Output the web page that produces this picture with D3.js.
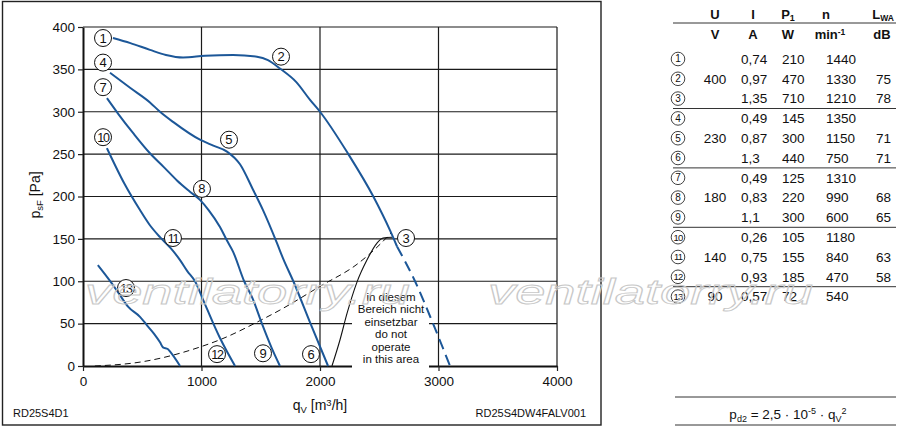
<!DOCTYPE html>
<html><head><meta charset="utf-8">
<script src="https://cdn.jsdelivr.net/npm/d3@7"></script>
<style>
html,body{margin:0;padding:0;background:#fff;}
svg{display:block;}
</style></head>
<body>
<svg id="chart" width="900" height="429"></svg>
<script>
// ---------- DATA ----------
const xTicks = [0, 1000, 2000, 3000, 4000];
const yTicks = [0, 50, 100, 150, 200, 250, 300, 350, 400];

// characteristic curves (q [m3/h], p [Pa])
const curve123 = [[253,387],[400,381],[565,373],[700,367],[844,364],[1030,366],[1266,367],[1468,365],[1561,361],[1662,351],[1800,335],[1916,314],[2000,300],[2239,250],[2450,200],[2591,160],[2650,141]];
const curve3Dashed = [[2650,141],[2802,100],[2954,50],[3097,0]];
const curve456 = [[228,346],[400,328],[565,311],[650,300],[760,288],[987,267],[1100,260],[1215,253],[1325,238],[1435,208],[1519,184],[1637,145],[1688,127],[1775,100],[1920,50],[2068,0]];
const curve789 = [[202,316],[300,297],[422,275],[565,251],[680,235],[793,219],[900,206],[987,196],[1060,184],[1156,164],[1215,148],[1266,135],[1360,100],[1430,80],[1510,50],[1590,22],[1662,0]];
const curve101112 = [[202,257],[350,215],[481,184],[560,167],[650,152],[740,139],[819,125],[880,112],[945,100],[1020,76],[1100,50],[1156,33],[1283,0]];
const curve13 = [[125,119],[240,98],[305,85],[380,70],[481,58],[540,48],[600,38],[650,28],[675,22],[715,20],[740,16],[819,0]];
const boundaryCurve = [[2101,0],[2169,31],[2228,62],[2312,99],[2396,125],[2481,145],[2532,151],[2608,152]];
const systemCurve = [[100,0],[500,5],[1000,23],[1156,31],[1500,54],[1662,66],[2000,94],[2312,120],[2480,140],[2600,157]];

// curve number labels (position in data coords)
const labelIds = ["1","4","7","10","2","5","8","11","13","12","9","6","3"];
const labelQ   = [169,169,169,169,1671,1232,1004,759,363,1131,1519,1924,2726];
const labelP   = [387,358,329,270,365,267,209,151,92,14,15,14,151];

// table
const rowIds  = ["1","2","3","4","5","6","7","8","9","10","11","12","13"];
const rowU    = ["","400","","","230","","","180","","","140","","90"];
const rowI    = ["0,74","0,97","1,35","0,49","0,87","1,3","0,49","0,83","1,1","0,26","0,75","0,93","0,57"];
const rowP    = ["210","470","710","145","300","440","125","220","300","105","155","185","72"];
const rowN    = ["1440","1330","1210","1350","1150","750","1310","990","600","1180","840","470","540"];
const rowL    = ["","75","78","","71","71","","68","65","","63","58",""];
const groupBreaks = [3, 6, 9, 12];

const noteLines = ["in diesem","Bereich nicht","einsetzbar","do not","operate","in this area"];

// ---------- DRAW ----------
const FONT = "'Liberation Sans', Arial, Helvetica, sans-serif";
const svg = d3.select("#chart").style("font-family", FONT);
const x = d3.scaleLinear().domain([0, 4000]).range([83, 557]);
const y = d3.scaleLinear().domain([0, 400]).range([366, 27]);
const BLUE = "#1c5798";

// frame
svg.append("rect").attr("x",2.5).attr("y",1.5).attr("width",598.5).attr("height",423.5)
  .attr("fill","none").attr("stroke","#222").attr("stroke-width",1.4);

// grid
const grid = svg.append("g").attr("stroke","#1a1a1a").attr("stroke-width",1.2);
grid.selectAll("line.h").data(yTicks.filter(d=>d>0)).join("line")
  .attr("x1", x(0)).attr("x2", x(4000)).attr("y1", d=>y(d)).attr("y2", d=>y(d));
grid.selectAll("line.v").data(xTicks.filter(d=>d>0)).join("line")
  .attr("x1", d=>x(d)).attr("x2", d=>x(d)).attr("y1", y(400)).attr("y2", y(0));

// axes
const yAxis = svg.append("g").attr("transform",`translate(${x(0)},0)`)
  .call(d3.axisLeft(y).tickValues(yTicks).tickSize(5).tickSizeOuter(0).tickPadding(3));
const xAxis = svg.append("g").attr("transform",`translate(0,${y(0)})`)
  .call(d3.axisBottom(x).tickValues(xTicks).tickSize(5).tickSizeOuter(0).tickPadding(5).tickFormat(d3.format("d")));
[yAxis, xAxis].forEach(a=>{
  a.select(".domain").attr("stroke","#111").attr("stroke-width",2);
  a.selectAll(".tick line").attr("stroke","#222").attr("stroke-width",1.2);
  a.selectAll(".tick text").attr("fill","#111").style("font-size","13.5px").style("font-family",FONT);
});

// note box (white, interrupts grid and axis)
svg.append("rect").attr("x",352).attr("y",288).attr("width",77).attr("height",81).attr("fill","#fff");
svg.append("g").selectAll("text").data(noteLines).join("text")
  .attr("x",391).attr("y",(d,i)=>301+i*12.4).attr("text-anchor","middle")
  .style("font-size","11.5px").attr("fill","#111").text(d=>d);

// curves
const line = d3.line().x(d=>x(d[0])).y(d=>y(d[1])).curve(d3.curveMonotoneX);
const cg = svg.append("g").attr("fill","none");
cg.append("path").attr("d", line(systemCurve)).attr("stroke","#111").attr("stroke-width",1).attr("stroke-dasharray","6,4");
cg.append("path").attr("d", line(boundaryCurve)).attr("stroke","#111").attr("stroke-width",1.1);
[curve123, curve456, curve789, curve101112, curve13].forEach(c=>{
  cg.append("path").attr("d", line(c)).attr("stroke",BLUE).attr("stroke-width",2);
});
cg.append("path").attr("d", line(curve3Dashed)).attr("stroke",BLUE).attr("stroke-width",2).attr("stroke-dasharray","11,6");

// curve labels
const lg = svg.append("g");
labelIds.forEach((id,i)=>{
  const cx = x(labelQ[i]), cy = y(labelP[i]);
  lg.append("circle").attr("cx",cx).attr("cy",cy).attr("r",8.5).attr("fill","#fff").attr("stroke","#111").attr("stroke-width",1);
  lg.append("text").attr("x",cx).attr("y",cy+4.5).attr("text-anchor","middle")
    .style("font-size", id.length>1 ? "12.5px":"13px").style("letter-spacing", id.length>1?"-1.2px":"0")
    .attr("fill","#111").text(id);
});

// axis titles
const yt = svg.append("text").attr("transform","translate(40,195) rotate(-90)").attr("text-anchor","middle")
  .style("font-size","14px").attr("fill","#111");
yt.append("tspan").text("p");
yt.append("tspan").text("sF").style("font-size","9.5px").attr("dy",3);
yt.append("tspan").text(" [Pa]").attr("dy",-3);

const xt = svg.append("text").attr("x",320).attr("y",410).attr("text-anchor","middle")
  .style("font-size","14px").attr("fill","#111");
xt.append("tspan").text("q");
xt.append("tspan").text("V").style("font-size","9.5px").attr("dy",3);
xt.append("tspan").text(" [m").attr("dy",-3);
xt.append("tspan").text("3").style("font-size","9.5px").attr("dy",-4);
xt.append("tspan").text("/h]").attr("dy",4);

svg.append("text").attr("x",13).attr("y",417).style("font-size","11px").attr("fill","#111").text("RD25S4D1");
svg.append("text").attr("x",586).attr("y",417).attr("text-anchor","end").style("font-size","11px").attr("fill","#111").text("RD25S4DW4FALV001");

// ---------- TABLE ----------
const tg = svg.append("g").attr("fill","#111");
const hdr = tg.append("g").style("font-size","13px").style("font-weight","bold");
hdr.append("text").attr("x",715).attr("y",19).attr("text-anchor","middle").text("U");
hdr.append("text").attr("x",753).attr("y",19).attr("text-anchor","middle").text("I");
const hp = hdr.append("text").attr("x",788).attr("y",19).attr("text-anchor","middle");
hp.append("tspan").text("P"); hp.append("tspan").text("1").style("font-size","9px").attr("dy",2);
hdr.append("text").attr("x",826).attr("y",19).attr("text-anchor","middle").text("n");
const hl = hdr.append("text").attr("x",883).attr("y",19).attr("text-anchor","middle");
hl.append("tspan").text("L"); hl.append("tspan").text("WA").style("font-size","8.5px").attr("dy",2);

hdr.append("text").attr("x",715).attr("y",39).attr("text-anchor","middle").text("V");
hdr.append("text").attr("x",753).attr("y",39).attr("text-anchor","middle").text("A");
hdr.append("text").attr("x",788).attr("y",39).attr("text-anchor","middle").text("W");
const hm = hdr.append("text").attr("x",830).attr("y",39).attr("text-anchor","middle");
hm.append("tspan").text("min"); hm.append("tspan").text("-1").style("font-size","8.5px").attr("dy",-4);
hdr.append("text").attr("x",882).attr("y",39).attr("text-anchor","middle").text("dB");

tg.append("line").attr("x1",673).attr("x2",896).attr("y1",23).attr("y2",23).attr("stroke","#333").attr("stroke-width",1);

const rowY = i => 59 + i*19.8;
groupBreaks.forEach(b=>{
  const yy = (rowY(b-1)+rowY(b))/2;
  tg.append("line").attr("x1",673).attr("x2",896).attr("y1",yy).attr("y2",yy).attr("stroke","#333").attr("stroke-width",1);
});
const body = tg.append("g").style("font-size","13.5px");
rowIds.forEach((id,i)=>{
  const cy = rowY(i), by = cy+4.8;
  body.append("circle").attr("cx",678).attr("cy",cy).attr("r",6.8).attr("fill","#fff").attr("stroke","#111").attr("stroke-width",0.8);
  body.append("text").attr("x",678).attr("y",cy+3.4).attr("text-anchor","middle")
    .style("font-size", id.length>1?"9.5px":"10px").style("letter-spacing", id.length>1?"-0.9px":"0").text(id);
  if (rowU[i]) body.append("text").attr("x",715).attr("y",by).attr("text-anchor","middle").text(rowU[i]);
  body.append("text").attr("x",741).attr("y",by).text(rowI[i]);
  body.append("text").attr("x",782).attr("y",by).text(rowP[i]);
  body.append("text").attr("x",826).attr("y",by).text(rowN[i]);
  if (rowL[i]) body.append("text").attr("x",891).attr("y",by).attr("text-anchor","end").text(rowL[i]);
});

// formula
tg.append("line").attr("x1",675).attr("x2",896).attr("y1",397).attr("y2",397).attr("stroke","#333").attr("stroke-width",1);
tg.append("line").attr("x1",675).attr("x2",896).attr("y1",425).attr("y2",425).attr("stroke","#333").attr("stroke-width",1);
const fm = tg.append("text").attr("x",788).attr("y",419).attr("text-anchor","middle").style("font-size","13.5px");
fm.append("tspan").text("p");
fm.append("tspan").text("d2").style("font-size","9px").attr("dy",3);
fm.append("tspan").text(" = 2,5 · 10").attr("dy",-3);
fm.append("tspan").text("-5").style("font-size","9px").attr("dy",-5);
fm.append("tspan").text(" · q").attr("dy",5);
fm.append("tspan").text("V").style("font-size","9px").attr("dy",3);
fm.append("tspan").text("2").style("font-size","9px").attr("dy",-8);

// watermark
const wmX = [85, 488];
svg.append("g").selectAll("text").data(wmX).join("text")
  .attr("x", d=>d).attr("y",304)
  .attr("textLength",325).attr("lengthAdjust","spacingAndGlyphs")
  .style("font-size","35px").style("font-style","italic")
  .attr("fill","none").attr("stroke","#c8c8c8").attr("stroke-width",0.9)
  .text("ventilatorry.ru");
</script>
</body></html>
